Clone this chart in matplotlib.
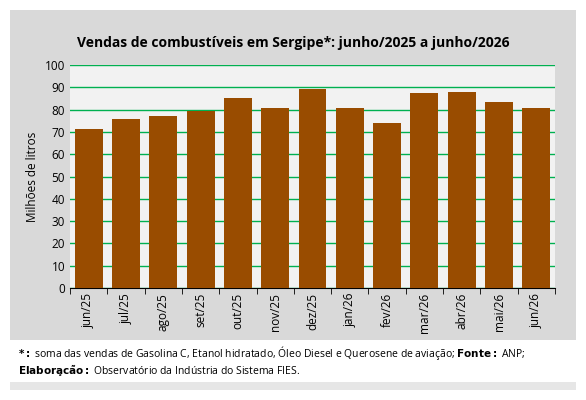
import matplotlib.pyplot as plt
from matplotlib.patches import Rectangle

meses = ['jun/25', 'jul/25', 'ago/25', 'set/25', 'out/25', 'nov/25', 'dez/25',
         'jan/26', 'fev/26', 'mar/26', 'abr/26', 'mai/26', 'jun/26']
vendas = [71.5, 75.8, 77.0, 79.2, 85.2, 80.8, 89.2, 80.6, 74.0, 87.3, 87.8, 83.6, 80.8]

plt.rcParams['font.family'] = ['Open Sans', 'DejaVu Sans']

fig = plt.figure(figsize=(5.86, 4.0), dpi=100)
fig.patch.set_facecolor('white')
# fundo cinza do gráfico
fig.add_artist(Rectangle((10/586, 60/400), 566/586, 330/400, transform=fig.transFigure,
                         facecolor='#d9d9d9', edgecolor='none', zorder=0))
fig.add_artist(Rectangle((10/586, 10/400), 566/586, 50/400, transform=fig.transFigure,
                         facecolor='#e6e6e6', edgecolor='none', zorder=0))
fig.add_artist(Rectangle((10/586, 18/400), 566/586, 42/400, transform=fig.transFigure,
                         facecolor='white', edgecolor='none', zorder=0))

ax = fig.add_axes([70/586, 112/400, (555-70)/586, (335-112)/400])
ax.set_facecolor('#f2f2f2')
x = range(len(meses))
ax.bar(x, vendas, width=0.75, color='#994c00', zorder=3)
ax.set_ylim(0, 100)
ax.set_yticks(range(0, 101, 10))
ax.set_xlim(-0.5, len(meses) - 0.5)
ax.set_xticks(list(x))
ax.set_xticklabels(meses, rotation=90, fontsize=8.5)
ax.tick_params(axis='y', labelsize=8.5, length=0)
ax.grid(axis='y', color='#00b050', linewidth=1, zorder=1)
for s in ['top', 'right', 'left']:
    ax.spines[s].set_visible(False)
ax.spines['bottom'].set_color('black')
# marcas entre categorias
ax.set_xticks([i - 0.5 for i in range(len(meses) + 1)], minor=True)
ax.tick_params(axis='x', which='major', length=0)
ax.tick_params(axis='x', which='minor', length=4, direction='out')
ax.set_ylabel('Milhões de litros', fontsize=8.5)

fig.text(0.5, 357/400, 'Vendas de combustíveis em Sergipe*: junho/2025 a junho/2026',
         ha='center', va='center', fontsize=10, fontweight='bold')
fig.text(18/586, 47/400, r'$\bf{*:}$ soma das vendas de Gasolina C, Etanol hidratado, Óleo Diesel e Querosene de aviação; $\bf{Fonte:}$ ANP;',
         fontsize=7.5, va='center')
fig.text(18/586, 29/400, r'$\bf{Elabora\c{c}\tilde{a}o:}$ Observatório da Indústria do Sistema FIES.',
         fontsize=7.5, va='center')

fig.savefig('out.png', dpi=100)
